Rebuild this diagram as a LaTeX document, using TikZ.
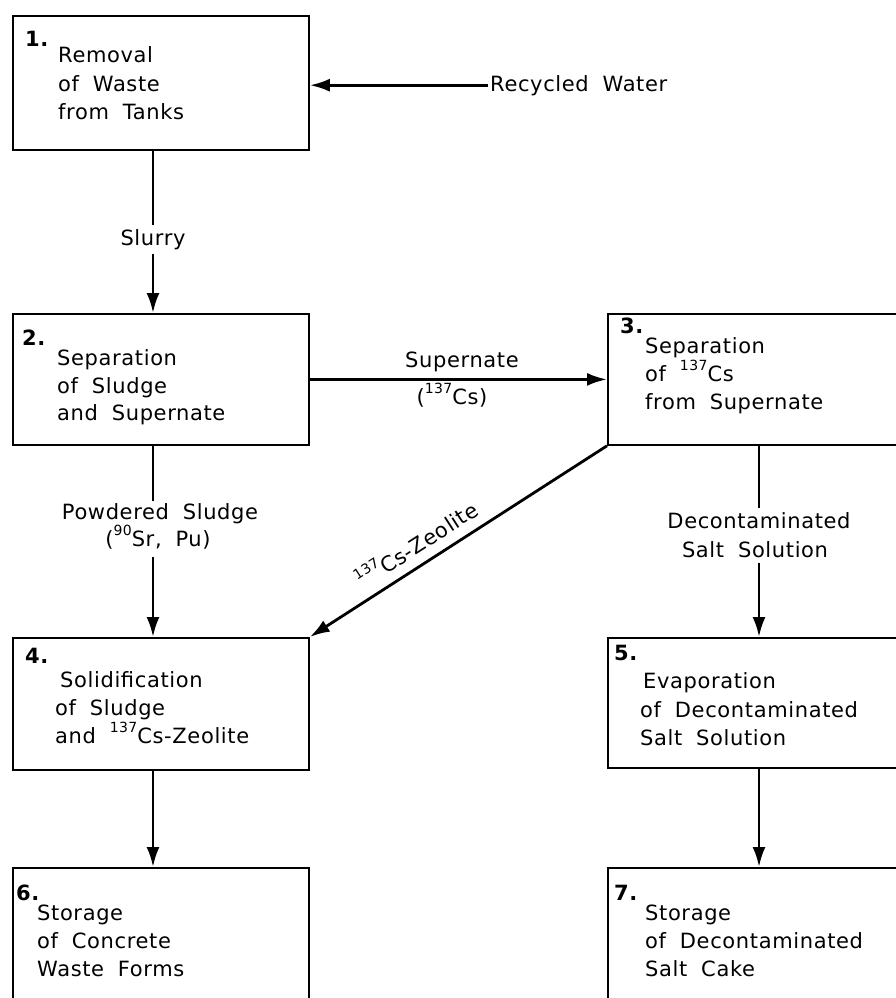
\documentclass[tikz,border=0pt]{standalone}
\usepackage{fontspec}
\setmainfont{DejaVu Sans}[WordSpace=1.9,LetterSpace=3]
\usetikzlibrary{arrows.meta}
\newcommand\sups[1]{\raisebox{0.52em}{\fontsize{14}{14}\selectfont #1}}
\begin{document}
\begin{tikzpicture}[x=1pt,y=-1pt,
  box/.style={draw, line width=1.8pt, minimum width=296pt, anchor=north west, inner sep=0pt},
  txt/.style={anchor=base west, inner sep=0pt, font=\fontsize{21}{25}\selectfont},
  num/.style={anchor=base west, inner sep=0pt, font=\fontsize{21}{25}\selectfont\bfseries},
  lbl/.style={anchor=base, inner sep=2pt, font=\fontsize{21}{25}\selectfont},
  flow/.style={line width=2.8pt},
  arr/.style={line width=2.8pt, -{Latex[length=20pt,width=13pt]}}]
\useasboundingbox (0,0) rectangle (895,998);
% boxes
\node[box, minimum height=134pt] (b1) at (12,15) {};
\node[box, minimum height=131pt] (b2) at (12,313) {};
\node[box, minimum width=320pt, minimum height=131pt] (b3) at (607,313) {};
\node[box, minimum height=132pt] (b4) at (12,637) {};
\node[box, minimum width=320pt, minimum height=130pt] (b5) at (607,637) {};
\node[box, minimum height=150pt] (b6) at (12,867) {};
\node[box, minimum width=320pt, minimum height=150pt] (b7) at (607,867) {};
% box texts
\node[num] (n1) at (25,47) {1.};
\node[txt] (t1a) at (58,63) {Removal};
\node[txt] (t1b) at (58,91) {of Waste};
\node[txt] (t1c) at (58,119) {from Tanks};
\node[num] (n2) at (22,345) {2.};
\node[txt] (t2a) at (57,365) {Separation};
\node[txt] (t2b) at (57,393) {of Sludge};
\node[txt] (t2c) at (57,420) {and Supernate};
\node[num] (n3) at (620,333) {3.};
\node[txt] (t3a) at (645,353) {Separation};
\node[txt] (t3b) at (645,381) {of \sups{137}Cs};
\node[txt] (t3c) at (645,409) {from Supernate};
\node[num] (n4) at (25,663) {4.};
\node[txt] (t4a) at (60,687) {Solidification};
\node[txt] (t4b) at (55,715) {of Sludge};
\node[txt] (t4c) at (55,743) {and \sups{137}Cs-Zeolite};
\node[num] (n5) at (614,660) {5.};
\node[txt] (t5a) at (643,688) {Evaporation};
\node[txt] (t5b) at (640,717) {of Decontaminated};
\node[txt] (t5c) at (640,745) {Salt Solution};
\node[num] (n6) at (16,900) {6.};
\node[txt] (t6a) at (37,920) {Storage};
\node[txt] (t6b) at (37,948) {of Concrete};
\node[txt] (t6c) at (37,976) {Waste Forms};
\node[num] (n7) at (614,900) {7.};
\node[txt] (t7a) at (645,920) {Storage};
\node[txt] (t7b) at (645,948) {of Decontaminated};
\node[txt] (t7c) at (645,976) {Salt Cake};
% labels
\node[lbl] (slurry) at (153,245) {Slurry};
\node[lbl, anchor=base west] (rw) at (488,91) {Recycled Water};
\node[lbl] (sup) at (462,367) {Supernate};
\node[lbl] (cs) at (452,404) {(\sups{137}Cs)};
\node[lbl] (pow) at (160,519) {Powdered Sludge};
\node[lbl] (srpu) at (158,546) {(\sups{90}Sr, Pu)};
\node[lbl] (dec) at (759,528) {Decontaminated};
\node[lbl] (salt) at (755,557) {Salt Solution};
\node[anchor=center, inner sep=0pt, rotate=32.8, font=\fontsize{21}{25}\selectfont] (zeo) at (416,543) {\sups{137}Cs-Zeolite};
% connectors
\draw[flow] (b1.south -| slurry) -- ([yshift=2pt]slurry.north);
\draw[arr] ([yshift=-2pt]slurry.south) -- (b2.north -| slurry);
\draw[arr] (rw.west) -- (b1.east |- rw.west);
\draw[arr] (b2.east) -- (b3.west |- b2.east);
\draw[flow] (b2.south -| slurry) -- (pow.north -| slurry);
\draw[arr] ([yshift=-6pt]srpu.south -| slurry) -- (b4.north -| slurry);
\draw[flow] (b3.south -| dec) -- ([yshift=2pt]dec.north);
\draw[arr] ([yshift=-3pt]salt.south -| dec) -- (b5.north -| dec);
\draw[arr] (b3.south west) -- (b4.north east);
\draw[arr] (b4.south -| slurry) -- (b6.north -| slurry);
\draw[arr] (b5.south -| dec) -- (b7.north -| dec);
\end{tikzpicture}
\end{document}
